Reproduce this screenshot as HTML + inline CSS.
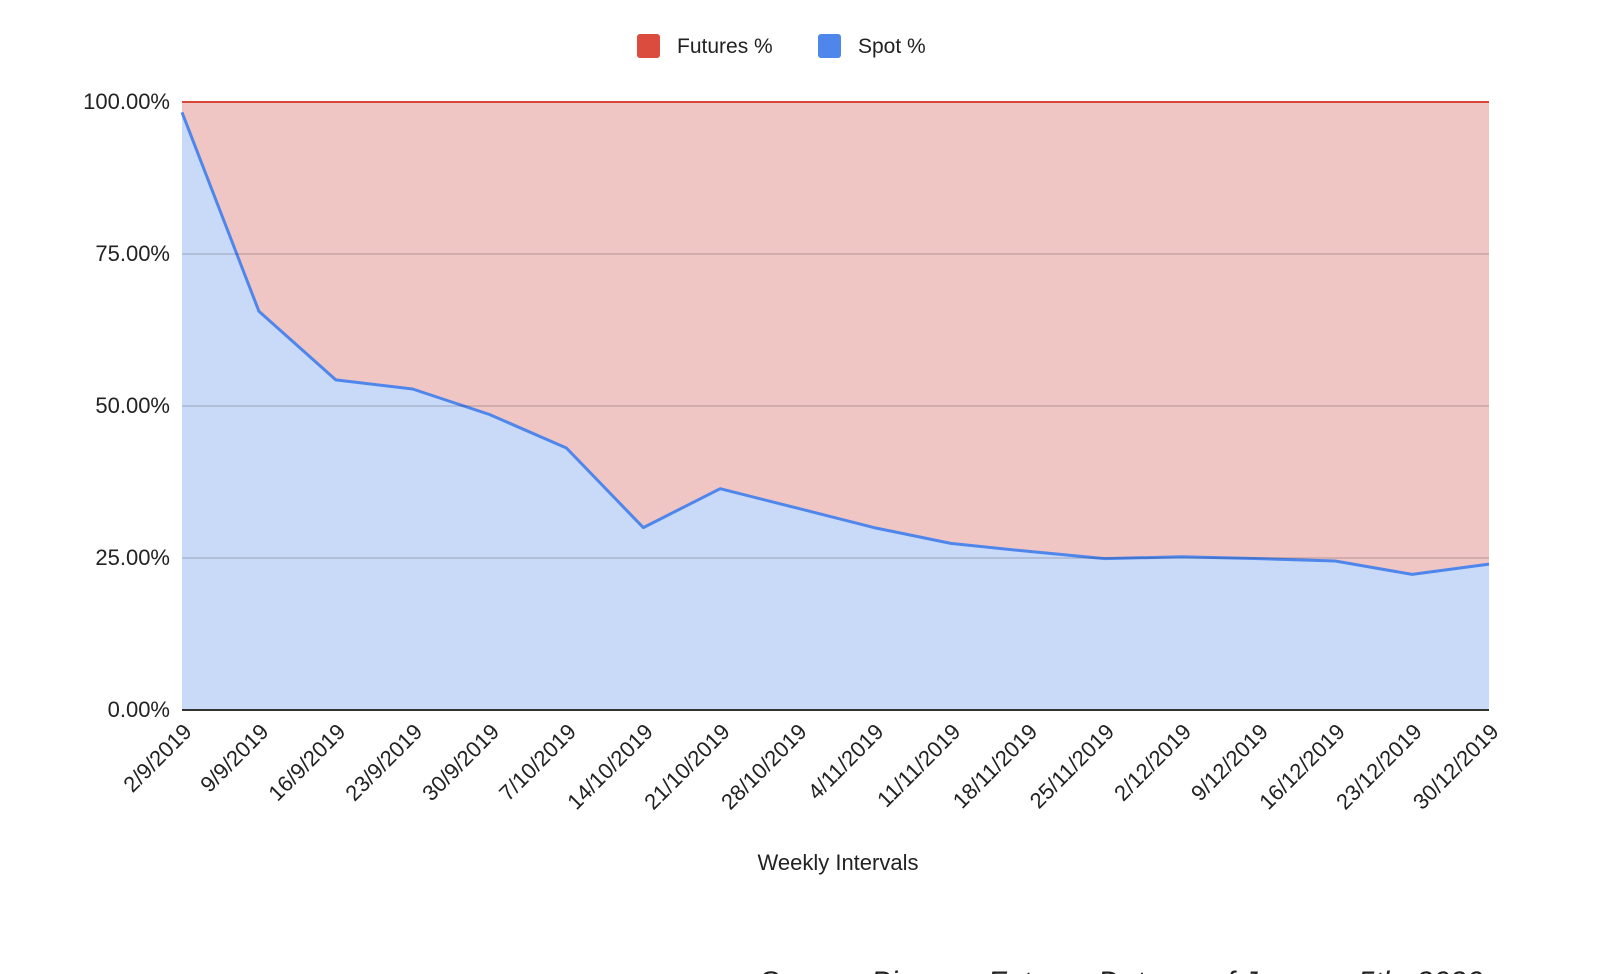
<!DOCTYPE html>
<html><head><meta charset="utf-8"><style>
html,body{margin:0;padding:0;background:#fff;width:1610px;height:974px;overflow:hidden}
svg text{font-family:"Liberation Sans",Arial,sans-serif;fill:#222}
</style></head><body>
<svg width="1610" height="974" viewBox="0 0 1610 974" xmlns="http://www.w3.org/2000/svg">
<rect x="637" y="34" width="23" height="24" rx="3" fill="#db4b3e"/>
<text x="677" y="53" font-size="21">Futures %</text>
<rect x="818" y="34" width="23" height="24" rx="3" fill="#4f86ec"/>
<text x="858" y="53" font-size="21">Spot %</text>
<rect x="182" y="102" width="1307" height="608" fill="#f0c6c4"/>
<g id="plot"></g>
<g stroke="#000" stroke-opacity="0.25" stroke-width="1">
<line x1="182" y1="254" x2="1489" y2="254"/>
<line x1="182" y1="406" x2="1489" y2="406"/>
<line x1="182" y1="558" x2="1489" y2="558"/>
</g>
<line x1="182" y1="102" x2="1489" y2="102" stroke="#d9463a" stroke-width="2"/>
<line x1="182" y1="710" x2="1489" y2="710" stroke="#333" stroke-width="2"/>
<g font-size="22" text-anchor="end">
<text x="170" y="109">100.00%</text>
<text x="170" y="261">75.00%</text>
<text x="170" y="413">50.00%</text>
<text x="170" y="565">25.00%</text>
<text x="170" y="717">0.00%</text>
</g>
<g id="xl" font-size="22" text-anchor="end"></g>
<text x="838" y="870" font-size="22" text-anchor="middle">Weekly Intervals</text>
<text x="759" y="992" font-size="30" font-style="italic">Source: Binance Futures Data as of January 5th, 2020</text>
<script>
var v=[98.3,65.6,54.3,52.8,48.6,43.1,30,36.4,33.2,30,27.4,26.1,24.9,25.2,24.9,24.5,22.3,24];
var l=["2/9/2019","9/9/2019","16/9/2019","23/9/2019","30/9/2019","7/10/2019","14/10/2019","21/10/2019","28/10/2019","4/11/2019","11/11/2019","18/11/2019","25/11/2019","2/12/2019","9/12/2019","16/12/2019","23/12/2019","30/12/2019"];
var pts=v.map(function(d,i){return [182+i*1307/17,710-d*6.08]});
var s=pts.map(function(p){return p[0].toFixed(1)+","+p[1].toFixed(1)}).join(" ");
var ns="http://www.w3.org/2000/svg";
var g=document.getElementById("plot");
var a=document.createElementNS(ns,"polygon");a.setAttribute("points","182,710 "+s+" 1489,710");a.setAttribute("fill","#c9daf8");g.appendChild(a);
var pl=document.createElementNS(ns,"polyline");pl.setAttribute("points",s);pl.setAttribute("fill","none");pl.setAttribute("stroke","#4f86ec");pl.setAttribute("stroke-width","3");pl.setAttribute("stroke-linejoin","round");g.appendChild(pl);
var xl=document.getElementById("xl");
l.forEach(function(t,i){var x=182+i*1307/17;var e=document.createElementNS(ns,"text");e.setAttribute("transform","translate("+(x+11)+",733) rotate(-45)");e.textContent=t;xl.appendChild(e);});
</script>
</svg>
</body></html>
